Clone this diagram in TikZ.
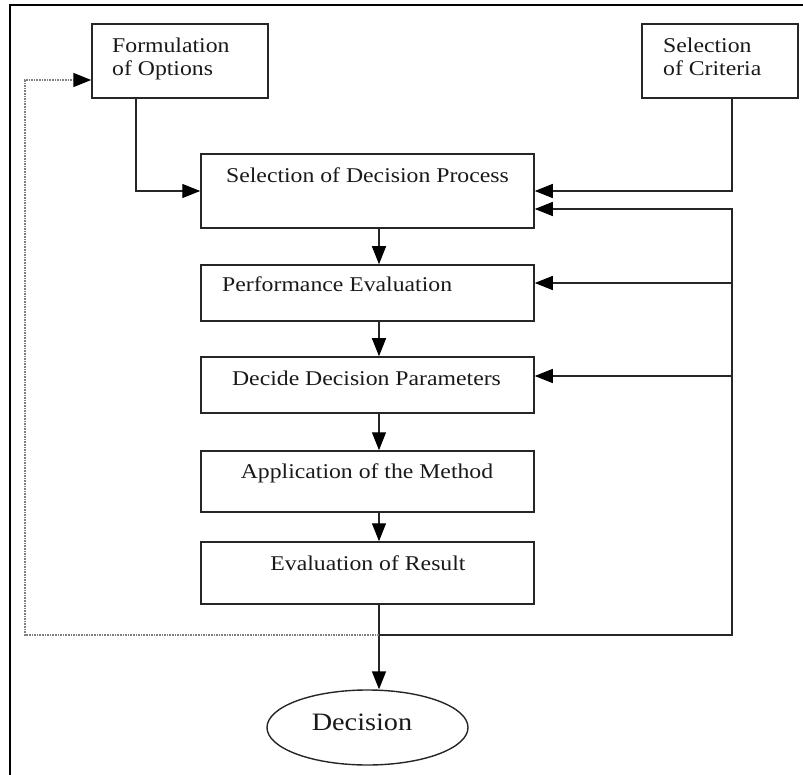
\documentclass[tikz,border=0pt]{standalone}
\usepackage{fontspec}
\setmainfont[FakeStretch=1.13]{Liberation Serif}
\usetikzlibrary{arrows.meta,shapes.geometric}
\begin{document}
\begin{tikzpicture}[x=1pt,y=-1pt,
  box/.style={draw=black!85,line width=1.5pt,rectangle,inner sep=0pt},
  txt/.style={inner sep=0pt,font=\fontsize{21}{23.5}\selectfont,text=black!90},
  conn/.style={draw=black!85,line width=1.4pt},
  tip/.style={-{Triangle[length=18pt,width=14pt,color=black]}},
  arr/.style={conn,tip},
  fb/.style={draw=black!50,line width=1.6pt,densely dotted}]
\useasboundingbox (0,0) rectangle (803,775);
% outer frame (partly cropped)
\draw[line width=2.5pt] (10,775) -- (10,5) -- (803,5);
% boxes
\node[box,minimum width=176pt,minimum height=74pt] (fo) at (180,61) {};
\node[box,minimum width=156pt,minimum height=74pt] (sc) at (720,61) {};
\node[box,minimum width=333pt,minimum height=74pt] (sdp) at (367.5,191) {};
\node[box,minimum width=333pt,minimum height=56pt] (pe) at (367.5,293) {};
\node[box,minimum width=333pt,minimum height=56pt] (ddp) at (367.5,385) {};
\node[box,minimum width=333pt,minimum height=61pt] (am) at (367.5,481.5) {};
\node[box,minimum width=333pt,minimum height=62pt] (er) at (367.5,573) {};
\node[draw=black!85,line width=1.4pt,ellipse,minimum width=201pt,minimum height=75pt,inner sep=0pt] (dec) at (367.5,727.5) {};
% texts
\node[txt,anchor=north west,align=left] (fot) at (112,37.5) {Formulation\\of Options};
\node[txt,anchor=north west,align=left] (sct) at (663,37.5) {Selection\\of Criteria};
\node[txt,anchor=base] (sdpt) at (367.5,183) {Selection of Decision Process};
\node[txt,anchor=base west] (pet) at (222,292) {Performance Evaluation};
\node[txt,anchor=base] (ddpt) at (366.5,385) {Decide Decision Parameters};
\node[txt,anchor=base] (amt) at (367,478) {Application of the Method};
\node[txt,anchor=base] (ert) at (368,570) {Evaluation of Result};
\node[inner sep=0pt,font=\fontsize{25}{28}\selectfont,text=black!90,anchor=base] (dect) at (362,730) {Decision};
% junction coordinates
\coordinate (foc) at (136,191);
\coordinate (scc) at (732,191);
\coordinate (rtop) at (732,209);
\coordinate (rpe) at (732,283);
\coordinate (rddp) at (732,376);
\coordinate (rbot) at (732,635);
\coordinate (mid) at (379,635);
\coordinate (lbot) at (25,635);
\coordinate (ltop) at (25,80);
% connectors
\draw[arr] (fo.south -| foc) -- (foc) -- (sdp.west |- foc);
\draw[arr] (sc.south -| scc) -- (scc) -- (sdp.east |- scc);
\draw[arr] (sdp.south -| mid) -- (pe.north -| mid);
\draw[arr] (pe.south -| mid) -- (ddp.north -| mid);
\draw[arr] (ddp.south -| mid) -- (am.north -| mid);
\draw[arr] (am.south -| mid) -- (er.north -| mid);
\draw[arr] (er.south -| mid) -- (dec.north -| mid);
\draw[arr] (mid) -- (rbot) -- (rtop) -- (sdp.east |- rtop);
\draw[arr] (rpe) -- (pe.east |- rpe);
\draw[arr] (rddp) -- (ddp.east |- rddp);
\draw[fb,tip] (mid) -- (lbot) -- (ltop) -- (fo.west |- ltop);
\end{tikzpicture}
\end{document}
